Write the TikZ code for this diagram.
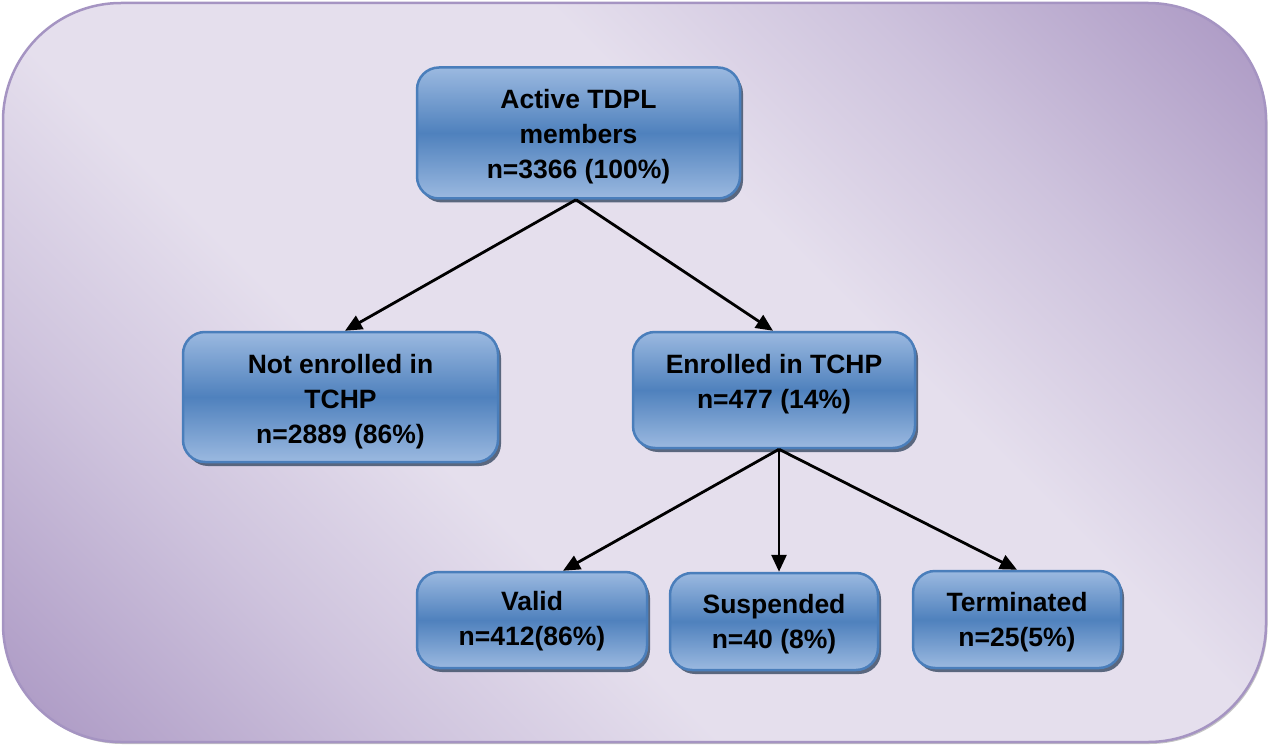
\documentclass[tikz,border=0pt]{standalone}
\usepackage{fontspec}
\setmainfont{Liberation Sans}
\usetikzlibrary{arrows.meta,shadows}

\definecolor{bgdark}{RGB}{176,158,199}
\definecolor{bgmid}{RGB}{206,195,221}
\definecolor{bglight}{RGB}{229,223,237}
\definecolor{bgedge}{RGB}{165,148,194}
\definecolor{boxlight}{RGB}{155,185,224}
\definecolor{boxdark}{RGB}{79,129,189}
\definecolor{boxedge}{RGB}{74,126,187}
\definecolor{boxshadow}{RGB}{75,90,115}

% diagonal panel shading: purple at two opposite corners, pale in the middle
\pgfdeclarehorizontalshading{panelshade}{100bp}{%
  color(0bp)=(bgdark); color(17bp)=(bgdark); color(29bp)=(bgmid);
  color(40bp)=(bglight); color(60bp)=(bglight); color(71bp)=(bgmid);
  color(83bp)=(bgdark); color(100bp)=(bgdark)}

\begin{document}
\begin{tikzpicture}[x=1pt,y=-1pt,
  box/.style={draw=boxedge, line width=2.5pt, rounded corners=22pt,
    top color=boxlight, bottom color=boxlight, middle color=boxdark,
    drop shadow={shadow xshift=3pt, shadow yshift=-4pt, fill=boxshadow, opacity=0.9},
    inner sep=0pt},
  lbl/.style={font=\fontsize{26.5}{35}\selectfont\bfseries, align=center,
    inner sep=0pt, text=black},
  link/.style={line width=2.8pt, -{Triangle[length=17pt,width=15pt]}}]

\useasboundingbox (0,0) rectangle (1271,746);

% panel
\path[shade, shading=panelshade, shading angle=45, draw=bgedge, line width=2.5pt,
  rounded corners=118pt,
  drop shadow={shadow xshift=1.5pt, shadow yshift=-2pt, fill=black!45, opacity=0.5}]
  (3,3) rectangle (1266,742);

% boxes
\node[box, minimum width=323pt, minimum height=131pt] (top) at (578.5,133) {};
\node[lbl] (topT) at (578.5,136.3) {Active TDPL\\members\\n=3366 (100\%)};

\node[box, minimum width=315pt, minimum height=130pt] (ne) at (340.5,397) {};
\node[lbl] (neT) at (340.5,401.3) {Not enrolled in\\TCHP\\n=2889 (86\%)};

\node[box, minimum width=282pt, minimum height=116pt] (en) at (774,390) {};
\node[lbl] (enT) at (774,383.8) {Enrolled in TCHP\\n=477 (14\%)};

\node[box, minimum width=230pt, minimum height=96pt] (va) at (532,620) {};
\node[lbl] (vaT) at (532,620.8) {Valid\\n=412(86\%)};

\node[box, minimum width=208pt, minimum height=97pt] (su) at (774,621.5) {};
\node[lbl] (suT) at (774,623.8) {Suspended\\n=40 (8\%)};

\node[box, minimum width=208pt, minimum height=97pt] (te) at (1017,619.5) {};
\node[lbl] (teT) at (1017,621.8) {Terminated\\n=25(5\%)};

% connectors
\coordinate (j1) at ([xshift=-2.5pt]top.south);
\draw[link] (j1) -- ([xshift=4.5pt]ne.north);
\draw[link] (j1) -- ([xshift=-1pt]en.north);

\coordinate (j2) at ([xshift=5pt]en.south);
\draw[link] (j2) -- ([xshift=31pt]va.north);
\draw[link] (j2) -- ([xshift=5pt]su.north);
\draw[link] (j2) -- (te.north);
\end{tikzpicture}
\end{document}
